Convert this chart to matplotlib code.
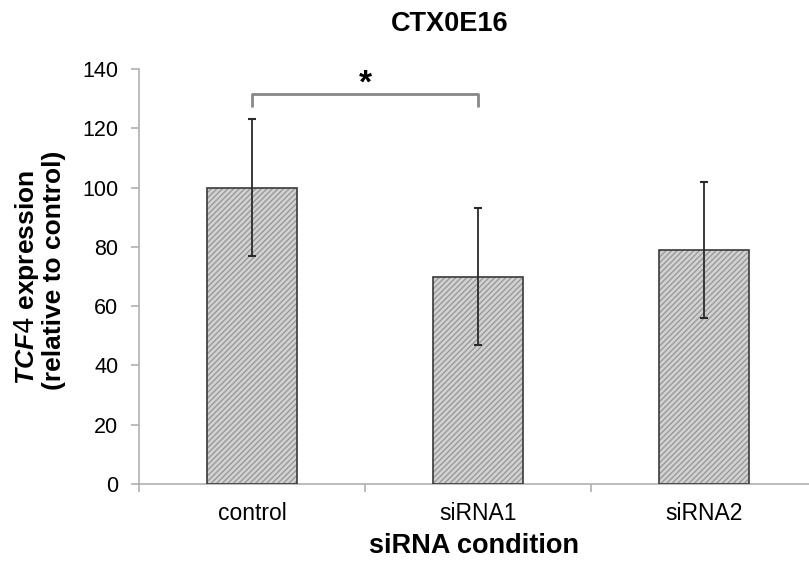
import matplotlib
matplotlib.use("Agg")
import matplotlib.pyplot as plt

plt.rcParams['font.family'] = ['Liberation Sans', 'DejaVu Sans']
plt.rcParams['mathtext.fontset'] = 'custom'
plt.rcParams['mathtext.it'] = 'Liberation Sans:italic:bold'
plt.rcParams['hatch.linewidth'] = 1.0

conditions = ["control", "siRNA1", "siRNA2"]
expression = [100, 70, 79]
errors = [23, 23, 23]
sig_pair = (0, 1)
bracket_low, bracket_high = 127.3, 131.5

fig = plt.figure(figsize=(8.09, 5.62), dpi=100)
ax = fig.add_axes([139/809, 78/562, 1 - 139/809, (484 - 69)/562])

x = list(range(len(conditions)))
# hatched fill first, then outline on top
ax.bar(x, expression, width=0.4, facecolor='#d2d2d2', edgecolor='#9a9a9a',
       hatch='//////', linewidth=0, zorder=2)
ax.bar(x, expression, width=0.4, fill=False, edgecolor='#3a3a3a',
       linewidth=1.2, zorder=3)
ax.errorbar(x, expression, yerr=errors, fmt='none', ecolor='#2a2a2a',
            elinewidth=1.3, capsize=3, capthick=1.5, zorder=4)

# significance bracket
a, b = sig_pair
ax.plot([a, a, b, b], [bracket_low, bracket_high, bracket_high, bracket_low],
        color='#888888', lw=2, solid_capstyle='butt', clip_on=False)
ax.text((a + b) / 2, 134.8, "*", ha='center', va='center', fontsize=24,
        fontweight='bold')

ax.set_ylim(0, 140)
ax.set_xlim(-0.5, 2.465)
ax.set_yticks(range(0, 141, 20))
ax.set_xticks([-0.5, 0.5, 1.5])
ax.set_xticklabels([])
ax.set_xticks(x, minor=True)
ax.set_xticklabels(conditions, minor=True, fontsize=16.5)
ax.tick_params(axis='x', which='minor', length=0, pad=13)
ax.tick_params(axis='both', which='major', length=6, width=1.2,
               color='#b0b0b0', direction='out')
ax.tick_params(axis='y', labelsize=15.5, pad=9)

for side in ['top', 'right']:
    ax.spines[side].set_visible(False)
for side in ['left', 'bottom']:
    ax.spines[side].set_color('#b0b0b0')
    ax.spines[side].set_linewidth(1.2)

fig.text(450/809, 1 - 24/562, "CTX0E16", ha='center', va='center',
         fontsize=19.5, fontweight='bold')
ax.set_xlabel("siRNA condition", fontsize=19.5, fontweight='bold', labelpad=6)
fig.text(27/809, 1 - 277/562, r"$\mathit{TCF4}$ expression", rotation=90,
         ha='center', va='center', fontsize=19, fontweight='bold')
fig.text(54/809, 1 - 270/562, "(relative to control)", rotation=90,
         ha='center', va='center', fontsize=19, fontweight='bold')

fig.savefig("out.png", dpi=100)
